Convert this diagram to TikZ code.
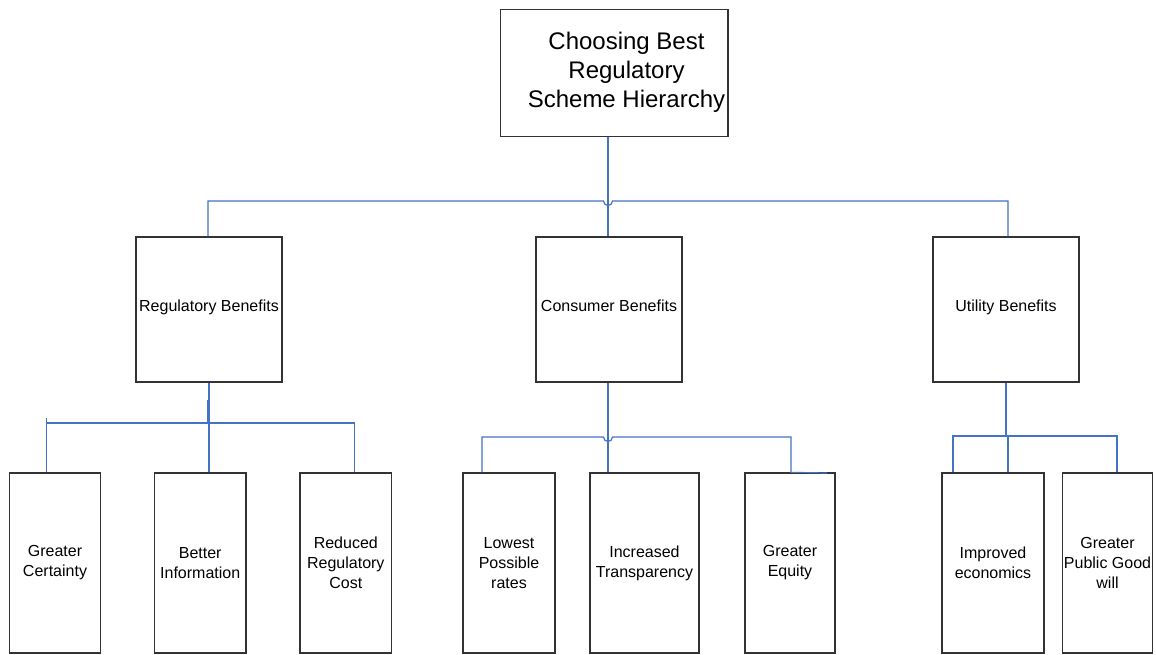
\documentclass[tikz,border=0pt]{standalone}
\usepackage{fontspec}
\setmainfont{Liberation Sans}
\begin{document}
\begin{tikzpicture}[x=1pt,y=-1pt,
  box/.style={draw=black!80, line width=1.3pt, fill=white, inner sep=0pt, align=center, font=\fontsize{16}{20}\selectfont},
  conn/.style={draw={rgb,255:red,68;green,114;blue,196}, line width=1.2pt}]
\useasboundingbox (0,0) rectangle (1156,654);
% top
\node[box, minimum width=227.3pt, minimum height=127pt] (top) at (614.3,73.3) {};
\node[align=center, inner sep=0pt, font=\fontsize{24}{29}\selectfont] (toptext) at (626.5,72) {Choosing Best\\Regulatory\\Scheme Hierarchy};
% middle
\node[box, minimum width=146pt, minimum height=145pt] (rb) at (209,309.5) {\raisebox{8.5pt}{Regulatory Benefits}};
\node[box, minimum width=146pt, minimum height=145pt] (cb) at (609,309.5) {\raisebox{8.5pt}{Consumer Benefits}};
\node[box, minimum width=146pt, minimum height=145pt] (ub) at (1006,309.5) {\raisebox{8.5pt}{Utility Benefits}};
% bottom
\node[box, minimum width=91.4pt, minimum height=180pt] (gc) at (55,563) {Greater\\Certainty};
\node[box, minimum width=91.7pt, minimum height=180pt] (bi) at (200.2,563) {Better\\Information};
\node[box, minimum width=91.7pt, minimum height=180pt] (rr) at (345.8,563) {Reduced\\Regulatory\\Cost};
\node[box, minimum width=92pt, minimum height=180pt] (lp) at (509,563) {Lowest\\Possible\\rates};
\node[box, minimum width=109pt, minimum height=180pt] (it) at (644.5,563) {Increased\\Transparency};
\node[box, minimum width=90pt, minimum height=180pt] (ge) at (790,563) {Greater\\Equity};
\node[box, minimum width=102pt, minimum height=180pt] (ie) at (993,563) {Improved\\economics};
\node[box, minimum width=89.6pt, minimum height=180pt] (gp) at (1107.5,563) {Greater\\Public Good\\will};
% coordinates
\coordinate (t0) at (608,137);
\coordinate (m0) at (608,382);
% top connectors
\draw[conn] (t0) -- (cb.north -| t0);
\draw[conn] (rb.north -| 208,0) -- (208,201) -- (603.5,201) arc[start angle=180,end angle=0,radius=4.5] -- (1008,201) -- (ub.north -| 1008,0);
% regulatory group
\draw[conn] (rb.south) -- (209,423);
\draw[conn] (208,400) -- (208,423);
\draw[conn] (46.7,418) -- (gc.north -| 46.7,0);
\draw[conn] (46.7,423) -- (354.3,423) -- (rr.north -| 354.3,0);
\draw[conn] (209,423) -- (bi.north -| 209,0);
% consumer group
\draw[conn] (cb.south -| m0) -- (it.north -| m0);
\draw[conn] (lp.north -| 482,0) -- (482,437) -- (603.5,437) arc[start angle=180,end angle=0,radius=4.5] -- (791,437) -- (ge.north -| 791,0) -- (827,473);
% utility group
\draw[conn] (ub.south) -- (1006,436);
\draw[conn] (ie.north -| 953,0) -- (953,436) -- (1117,436) -- (gp.north -| 1117,0);
\draw[conn] (1008,436) -- (ie.north -| 1008,0);
\end{tikzpicture}
\end{document}
